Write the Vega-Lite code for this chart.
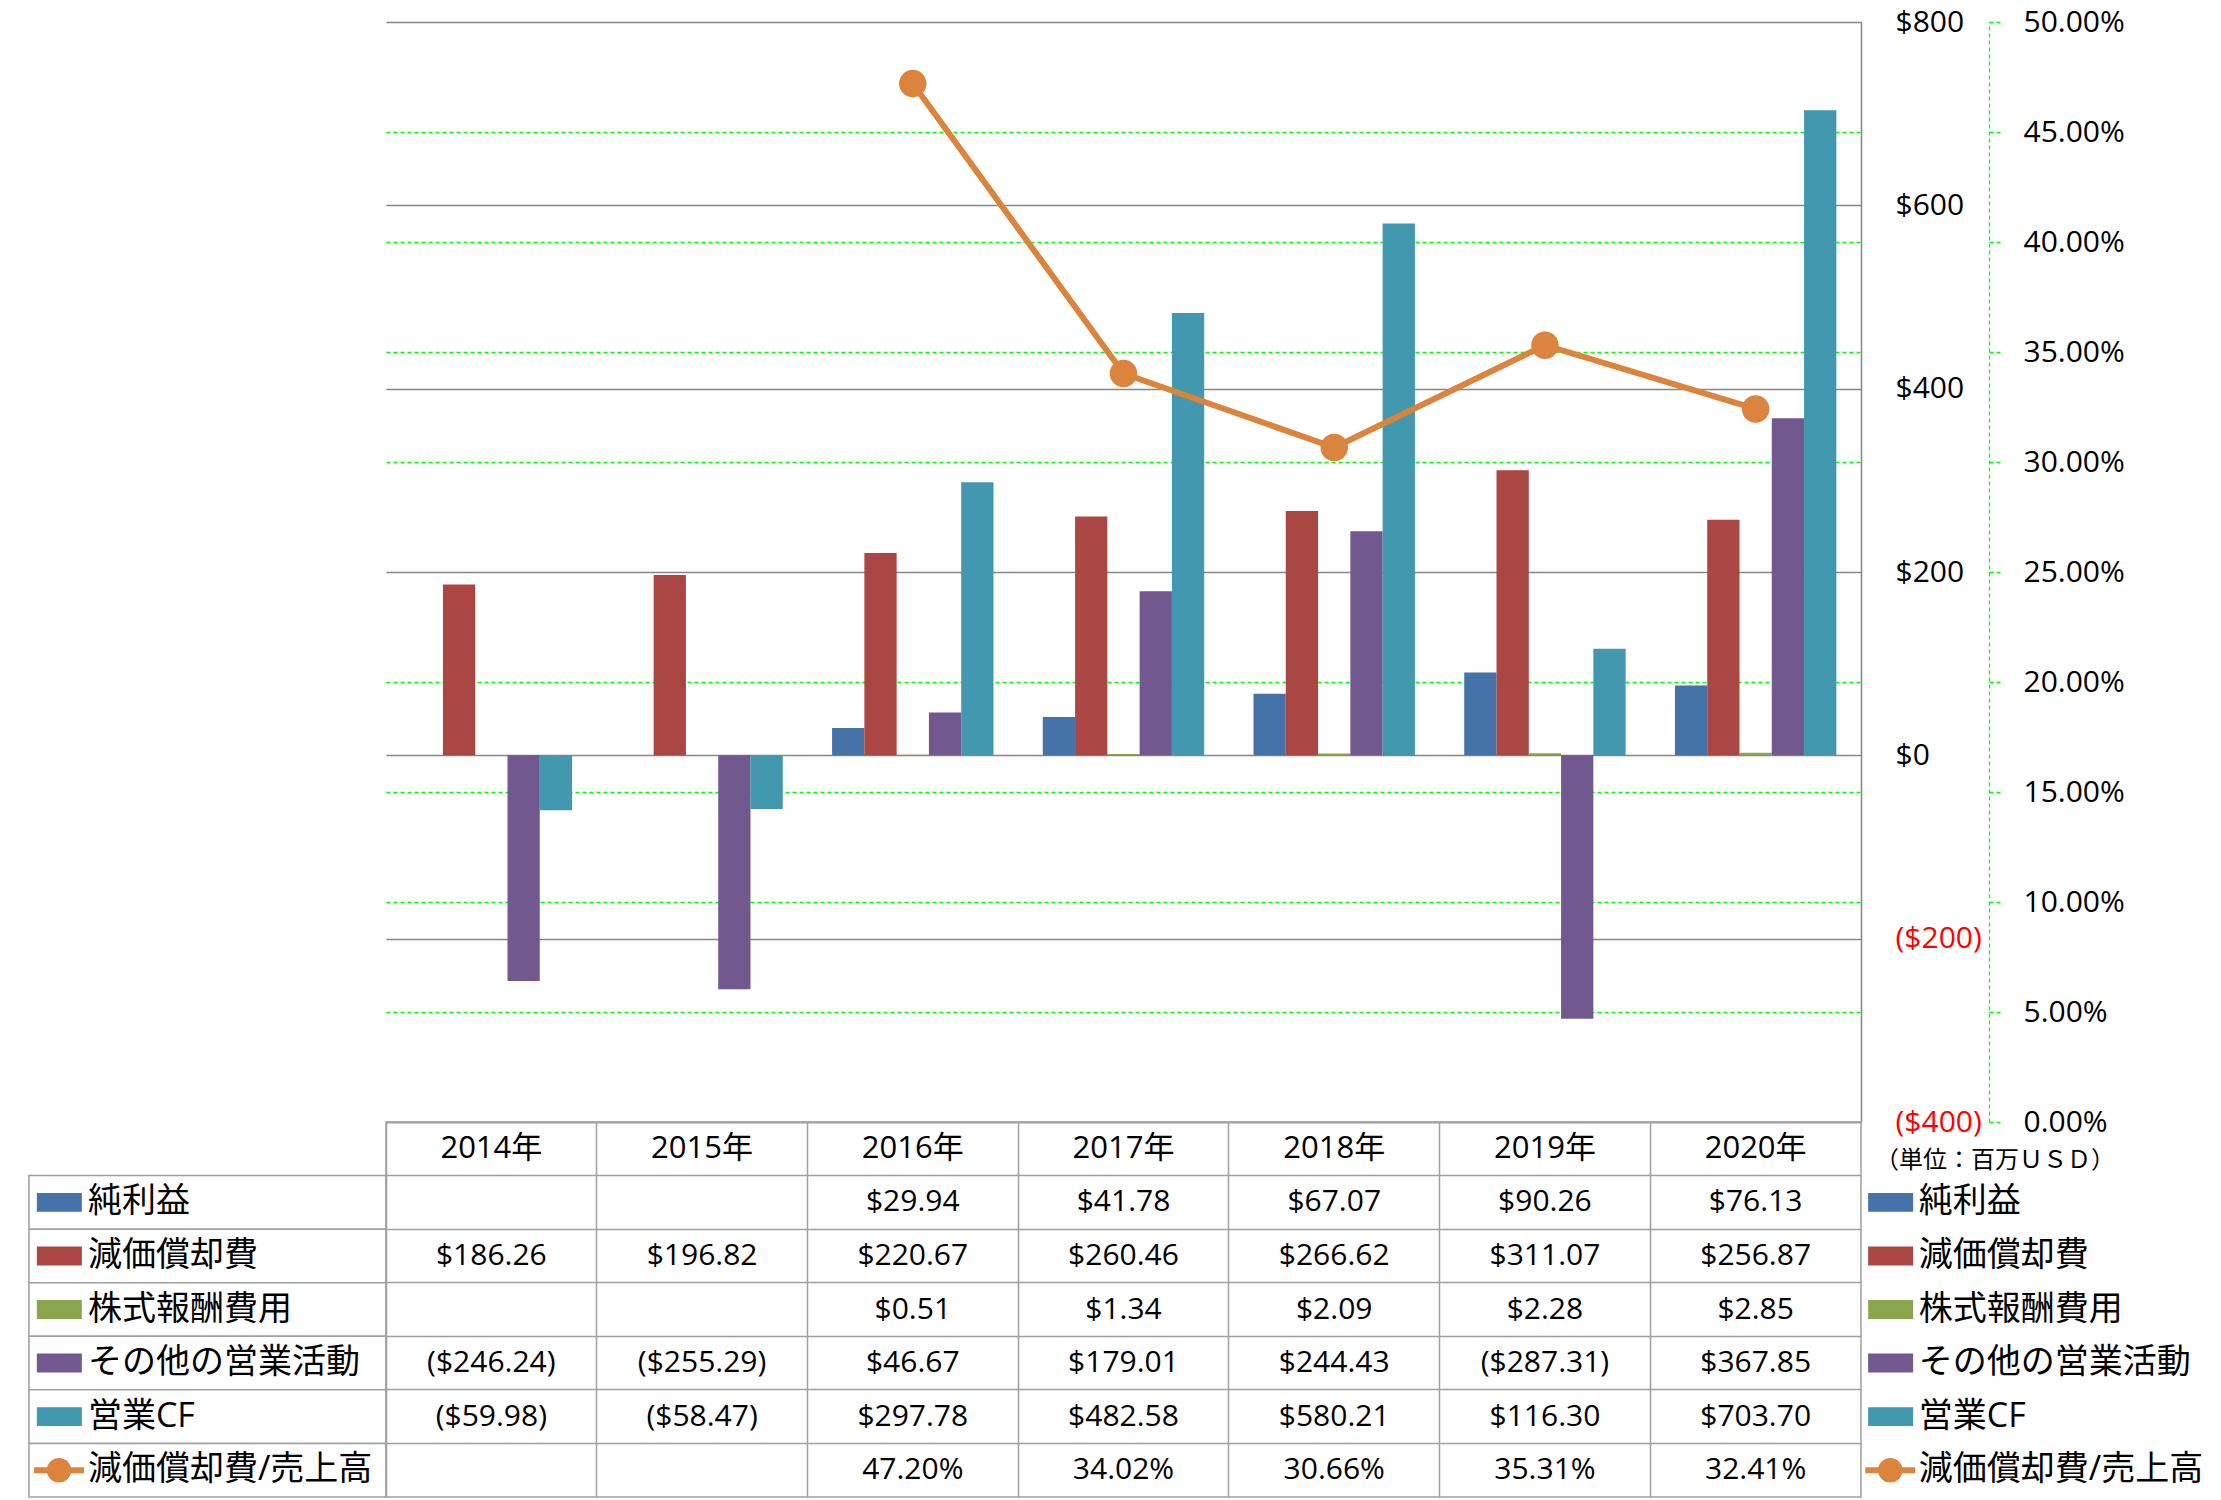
{
  "$schema": "https://vega.github.io/schema/vega-lite/v6.json",
  "padding": {"left": 21, "top": 7, "right": 0, "bottom": 0},
  "background": "white",
  "config": {"view": {"stroke": null}, "font": "Open Sans", "axis": {"labelFont": "Open Sans"}},
  "datasets": {
    "cash": [
      {"year": "2014年", "series": "減価償却費", "value": 186.26},
      {"year": "2014年", "series": "その他の営業活動", "value": -246.24},
      {"year": "2014年", "series": "営業CF", "value": -59.98},
      {"year": "2015年", "series": "減価償却費", "value": 196.82},
      {"year": "2015年", "series": "その他の営業活動", "value": -255.29},
      {"year": "2015年", "series": "営業CF", "value": -58.47},
      {"year": "2016年", "series": "純利益", "value": 29.94},
      {"year": "2016年", "series": "減価償却費", "value": 220.67},
      {"year": "2016年", "series": "株式報酬費用", "value": 0.51},
      {"year": "2016年", "series": "その他の営業活動", "value": 46.67},
      {"year": "2016年", "series": "営業CF", "value": 297.78},
      {"year": "2017年", "series": "純利益", "value": 41.78},
      {"year": "2017年", "series": "減価償却費", "value": 260.46},
      {"year": "2017年", "series": "株式報酬費用", "value": 1.34},
      {"year": "2017年", "series": "その他の営業活動", "value": 179.01},
      {"year": "2017年", "series": "営業CF", "value": 482.58},
      {"year": "2018年", "series": "純利益", "value": 67.07},
      {"year": "2018年", "series": "減価償却費", "value": 266.62},
      {"year": "2018年", "series": "株式報酬費用", "value": 2.09},
      {"year": "2018年", "series": "その他の営業活動", "value": 244.43},
      {"year": "2018年", "series": "営業CF", "value": 580.21},
      {"year": "2019年", "series": "純利益", "value": 90.26},
      {"year": "2019年", "series": "減価償却費", "value": 311.07},
      {"year": "2019年", "series": "株式報酬費用", "value": 2.28},
      {"year": "2019年", "series": "その他の営業活動", "value": -287.31},
      {"year": "2019年", "series": "営業CF", "value": 116.30},
      {"year": "2020年", "series": "純利益", "value": 76.13},
      {"year": "2020年", "series": "減価償却費", "value": 256.87},
      {"year": "2020年", "series": "株式報酬費用", "value": 2.85},
      {"year": "2020年", "series": "その他の営業活動", "value": 367.85},
      {"year": "2020年", "series": "営業CF", "value": 703.70}
    ],
    "ratio": [
      {"year": "2016年", "ratio": 0.4720},
      {"year": "2017年", "ratio": 0.3402},
      {"year": "2018年", "ratio": 0.3066},
      {"year": "2019年", "ratio": 0.3531},
      {"year": "2020年", "ratio": 0.3241}
    ],
    "rows": [
      {"row": "純利益", "kind": "bar"},
      {"row": "減価償却費", "kind": "bar"},
      {"row": "株式報酬費用", "kind": "bar"},
      {"row": "その他の営業活動", "kind": "bar"},
      {"row": "営業CF", "kind": "bar"},
      {"row": "減価償却費/売上高", "kind": "line"}
    ],
    "unit": [{"t": "（単位：百万ＵＳＤ）"}]
  },
  "columns": 3,
  "spacing": 0,
  "bounds": "flush",
  "align": "each",
  "concat": [
    {
      "width": 357, "height": 1100,
      "data": {"values": [{"a": 1}]},
      "mark": {"type": "point", "opacity": 0}
    },
    {
      "width": 1475, "height": 1100,
      "layer": [
        {
          "data": {"name": "cash"},
          "mark": {"type": "bar"},
          "encoding": {
            "x": {"field": "year", "type": "nominal", "scale": {"type": "band", "domain": ["2014年","2015年","2016年","2017年","2018年","2019年","2020年"], "paddingInner": 0.234, "paddingOuter": 0.117}, "axis": null},
            "xOffset": {"field": "series", "type": "nominal", "scale": {"domain": ["純利益","減価償却費","株式報酬費用","その他の営業活動","営業CF"], "paddingInner": 0, "paddingOuter": 0}},
            "y": {"field": "value", "type": "quantitative", "scale": {"domain": [-400, 800], "nice": false},
              "axis": {"orient": "right", "values": [-400,-200,0,200,400,600,800], "format": "($.0f", "labelFontSize": 30, "labelFont": "Open Sans",
                "labelColor": {"condition": {"test": "datum.value < 0", "value": "#FF0000"}, "value": "#000000"},
                "labelPadding": 34, "ticks": false, "tickSize": 0, "domain": true, "domainColor": "#868686", "domainWidth": 1.5,
                "grid": true, "gridColor": "#868686", "gridWidth": 1.5, "title": null}},
            "color": {"field": "series", "type": "nominal", "scale": {"domain": ["純利益","減価償却費","株式報酬費用","その他の営業活動","営業CF"], "range": ["#4572A7","#AA4643","#89A54E","#71588F","#4198AF"]}, "legend": null}
          }
        },
        {
          "data": {"name": "ratio"},
          "mark": {"type": "line", "color": "#DB843D", "strokeWidth": 6},
          "encoding": {
            "x": {"field": "year", "type": "nominal", "axis": null},
            "y": {"field": "ratio", "type": "quantitative", "scale": {"domain": [0, 0.5], "nice": false},
              "axis": {"orient": "right", "offset": 128, "values": [0,0.05,0.1,0.15,0.2,0.25,0.3,0.35,0.4,0.45,0.5], "format": ".2%",
                "labelFontSize": 30, "labelFont": "Open Sans", "labelColor": "#000000", "labelPadding": 23,
                "ticks": true, "tickSize": 11, "tickColor": "#00FF00", "tickDash": [4,3], "tickWidth": 1.3,
                "domain": true, "domainColor": "#00FF00", "domainDash": [4,3], "domainWidth": 1.3, "grid": false, "title": null}}
          }
        },
        {
          "data": {"name": "ratio"},
          "mark": {"type": "circle", "color": "#DB843D", "size": 755, "opacity": 1},
          "encoding": {
            "x": {"field": "year", "type": "nominal", "axis": null},
            "y": {"field": "ratio", "type": "quantitative", "scale": {"domain": [0, 0.5], "nice": false},
              "axis": {"orient": "left", "values": [0.05,0.1,0.15,0.2,0.3,0.35,0.4,0.45], "labels": false, "ticks": false, "domain": false,
                "grid": true, "gridColor": "#00FF00", "gridDash": [4,3], "gridWidth": 1.3, "title": null}}
          }
        }
      ],
      "resolve": {"scale": {"y": "independent"}}
    },
    {
      "width": 357, "height": 1100,
      "data": {"values": [{"a": 1}]},
      "mark": {"type": "point", "opacity": 0}
    },
    {
      "width": 357, "height": 375,
      "data": {"name": "rows"},
      "layer": [
        {
          "mark": {"type": "rect", "fill": "white", "stroke": "#A0A0A0", "strokeWidth": 1.5},
          "encoding": {"y": {"field": "row", "type": "nominal", "scale": {"type": "band", "domain": ["年度","純利益","減価償却費","株式報酬費用","その他の営業活動","営業CF","減価償却費/売上高"], "padding": 0}, "axis": null}}
        },
        {
          "transform": [{"filter": "datum.kind === 'bar'"}],
          "mark": {"type": "point", "shape": "M-1,-0.42H1V0.42H-1Z", "filled": true, "opacity": 1, "size": 2025},
          "encoding": {
            "y": {"field": "row", "type": "nominal", "bandPosition": 0.5, "axis": null},
            "x": {"datum": 8.5, "type": "quantitative", "scale": {"domain": [0, 100]}, "axis": null},
            "color": {"field": "row", "type": "nominal", "scale": {"domain": ["純利益","減価償却費","株式報酬費用","その他の営業活動","営業CF"], "range": ["#4572A7","#AA4643","#89A54E","#71588F","#4198AF"]}, "legend": null}
          }
        },
        {
          "transform": [{"filter": "datum.kind === 'line'"}],
          "mark": {"type": "point", "shape": "M-1,0H1", "filled": false, "stroke": "#DB843D", "strokeWidth": 6, "size": 2500, "opacity": 1},
          "encoding": {
            "y": {"field": "row", "type": "nominal", "bandPosition": 0.5, "axis": null},
            "x": {"datum": 8.4, "type": "quantitative", "axis": null}
          }
        },
        {
          "transform": [{"filter": "datum.kind === 'line'"}],
          "mark": {"type": "circle", "color": "#DB843D", "size": 600, "opacity": 1},
          "encoding": {
            "y": {"field": "row", "type": "nominal", "bandPosition": 0.5, "axis": null},
            "x": {"datum": 8.4, "type": "quantitative", "axis": null}
          }
        },
        {
          "mark": {"type": "text", "align": "left", "baseline": "middle", "fontSize": 34, "font": "Open Sans, Noto Sans CJK JP", "color": "#000000"},
          "encoding": {
            "y": {"field": "row", "type": "nominal", "bandPosition": 0.5, "axis": null},
            "x": {"datum": 16.5, "type": "quantitative", "axis": null},
            "text": {"field": "row"}
          }
        }
      ]
    },
    {
      "width": 1475, "height": 375,
      "view": {"stroke": "#A0A0A0", "strokeWidth": 1.5},
      "encoding": {
        "x": {"field": "year", "type": "nominal", "bandPosition": 0.5, "scale": {"type": "band", "domain": ["2014年","2015年","2016年","2017年","2018年","2019年","2020年"], "padding": 0},
          "axis": {"grid": true, "bandPosition": 0, "labels": false, "ticks": false, "domain": false, "title": null, "gridColor": "#A0A0A0", "gridWidth": 1.5}}
      },
      "layer": [
        {
          "data": {"name": "cash"},
          "transform": [{"filter": "datum.series === '減価償却費'"}],
          "mark": {"type": "text", "align": "center", "baseline": "middle", "fontSize": 31, "font": "Open Sans, Noto Sans CJK JP", "color": "#000000"},
          "encoding": {
            "y": {"datum": "年度", "type": "nominal", "bandPosition": 0.5, "scale": {"type": "band", "domain": ["年度","純利益","減価償却費","株式報酬費用","その他の営業活動","営業CF","減価償却費/売上高"], "padding": 0},
              "axis": {"grid": true, "bandPosition": 0, "labels": false, "ticks": false, "domain": false, "title": null, "gridColor": "#A0A0A0", "gridWidth": 1.5}},
            "text": {"field": "year"}
          }
        },
        {
          "data": {"name": "cash"},
          "mark": {"type": "text", "align": "center", "baseline": "middle", "fontSize": 30, "font": "Open Sans", "color": "#000000"},
          "encoding": {
            "y": {"field": "series", "type": "nominal", "bandPosition": 0.5},
            "text": {"field": "value", "type": "quantitative", "format": "($.2f"}
          }
        },
        {
          "data": {"name": "ratio"},
          "mark": {"type": "text", "align": "center", "baseline": "middle", "fontSize": 30, "font": "Open Sans", "color": "#000000"},
          "encoding": {
            "y": {"datum": "減価償却費/売上高", "type": "nominal", "bandPosition": 0.5},
            "text": {"field": "ratio", "type": "quantitative", "format": ".2%"}
          }
        }
      ]
    },
    {
      "width": 357, "height": 375,
      "data": {"name": "rows"},
      "layer": [
        {
          "data": {"name": "unit"},
          "mark": {"type": "text", "align": "left", "baseline": "middle", "fontSize": 24, "dy": 12, "font": "Noto Sans CJK JP", "color": "#000000"},
          "encoding": {
            "y": {"datum": "年度", "type": "nominal", "bandPosition": 0.5, "scale": {"type": "band", "domain": ["年度","純利益","減価償却費","株式報酬費用","その他の営業活動","営業CF","減価償却費/売上高"], "padding": 0}, "axis": null},
            "x": {"datum": 3.9, "type": "quantitative", "scale": {"domain": [0, 100]}, "axis": null},
            "text": {"field": "t"}
          }
        },
        {
          "transform": [{"filter": "datum.kind === 'bar'"}],
          "mark": {"type": "point", "shape": "M-1,-0.42H1V0.42H-1Z", "filled": true, "opacity": 1, "size": 2025},
          "encoding": {
            "y": {"field": "row", "type": "nominal", "bandPosition": 0.5, "axis": null},
            "x": {"datum": 8.3, "type": "quantitative", "axis": null},
            "color": {"field": "row", "type": "nominal", "scale": {"domain": ["純利益","減価償却費","株式報酬費用","その他の営業活動","営業CF"], "range": ["#4572A7","#AA4643","#89A54E","#71588F","#4198AF"]}, "legend": null}
          }
        },
        {
          "transform": [{"filter": "datum.kind === 'line'"}],
          "mark": {"type": "point", "shape": "M-1,0H1", "filled": false, "stroke": "#DB843D", "strokeWidth": 6, "size": 2500, "opacity": 1},
          "encoding": {
            "y": {"field": "row", "type": "nominal", "bandPosition": 0.5, "axis": null},
            "x": {"datum": 8.2, "type": "quantitative", "axis": null}
          }
        },
        {
          "transform": [{"filter": "datum.kind === 'line'"}],
          "mark": {"type": "circle", "color": "#DB843D", "size": 600, "opacity": 1},
          "encoding": {
            "y": {"field": "row", "type": "nominal", "bandPosition": 0.5, "axis": null},
            "x": {"datum": 8.2, "type": "quantitative", "axis": null}
          }
        },
        {
          "mark": {"type": "text", "align": "left", "baseline": "middle", "fontSize": 34, "font": "Open Sans, Noto Sans CJK JP", "color": "#000000"},
          "encoding": {
            "y": {"field": "row", "type": "nominal", "bandPosition": 0.5, "axis": null},
            "x": {"datum": 16.2, "type": "quantitative", "axis": null},
            "text": {"field": "row"}
          }
        }
      ]
    }
  ]
}
